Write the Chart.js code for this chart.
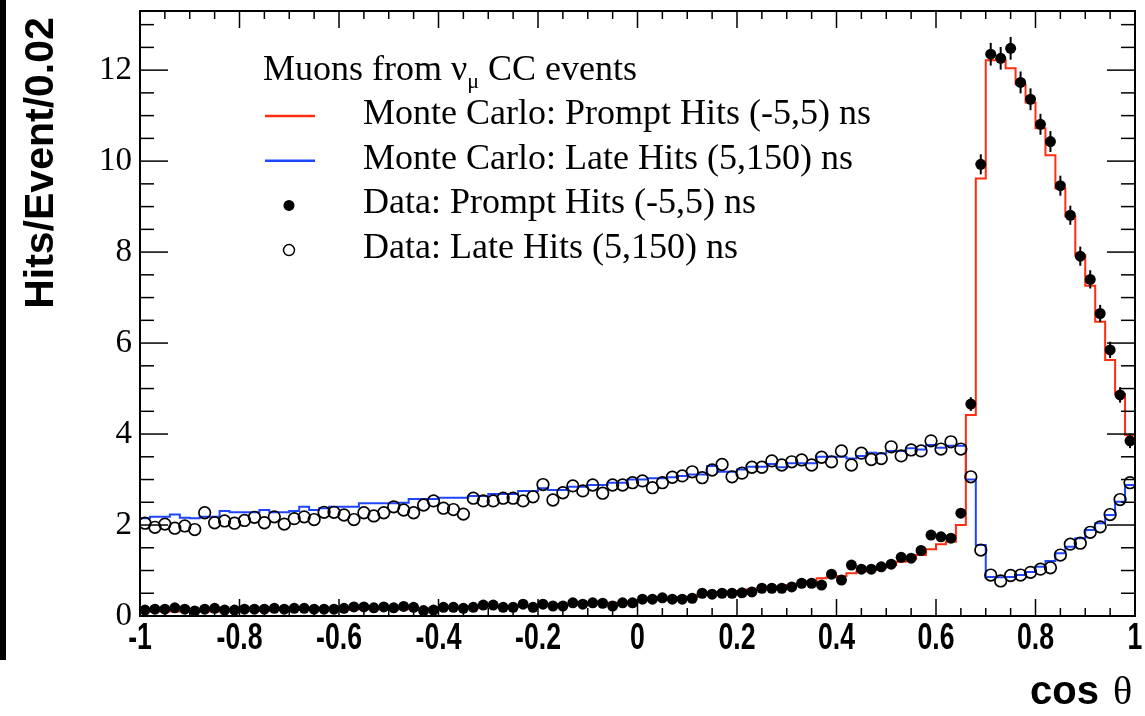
<!DOCTYPE html>
<html>
<head>
<meta charset="utf-8">
<script src="https://cdn.jsdelivr.net/npm/chart.js@4.4.0/dist/chart.umd.min.js"></script>
<style>
  html, body { margin: 0; padding: 0; background: #fff; }
  #wrap { width: 1145px; height: 716px; }
</style>
</head>
<body>
<div id="wrap"><canvas id="hitsChart"></canvas></div>
<script>
// cos(theta) binning: 100 bins of 0.02
const xMin = -1, xMax = 1, binWidth = 0.02;
const xTickVals = [-1, -0.8, -0.6, -0.4, -0.2, 0, 0.2, 0.4, 0.6, 0.8, 1];
const yTickVals = [0, 2, 4, 6, 8, 10, 12];

// Monte Carlo, prompt hits (-5,5) ns
const mcPrompt = [
  0.10, 0.10, 0.10, 0.10, 0.10, 0.10, 0.10, 0.10, 0.11, 0.11,
  0.11, 0.11, 0.11, 0.13, 0.13, 0.13, 0.13, 0.13, 0.13, 0.13,
  0.13, 0.15, 0.15, 0.15, 0.15, 0.15, 0.15, 0.15, 0.15, 0.17,
  0.17, 0.17, 0.17, 0.17, 0.21, 0.21, 0.21, 0.21, 0.21, 0.21,
  0.24, 0.24, 0.24, 0.24, 0.24, 0.28, 0.28, 0.29, 0.29, 0.29,
  0.35, 0.35, 0.39, 0.40, 0.42, 0.42, 0.46, 0.46, 0.50, 0.53,
  0.55, 0.59, 0.61, 0.62, 0.64, 0.68, 0.72, 0.76, 0.83, 0.85,
  0.88, 0.94, 0.98, 1.01, 1.06, 1.12, 1.19, 1.26, 1.34, 1.47,
  1.58, 1.63, 2.00, 4.42, 9.62, 12.22, 12.22, 12.04, 11.69, 11.29,
  10.72, 10.13, 9.40, 8.78, 7.93, 7.26, 6.47, 5.63, 4.88, 3.98
];
// Monte Carlo, late hits (5,150) ns
const mcLate = [
  2.15, 2.18, 2.18, 2.23, 2.16, 2.15, 2.18, 2.18, 2.31, 2.28,
  2.28, 2.28, 2.33, 2.28, 2.28, 2.31, 2.40, 2.33, 2.37, 2.40,
  2.40, 2.40, 2.48, 2.48, 2.48, 2.48, 2.49, 2.57, 2.57, 2.57,
  2.60, 2.60, 2.60, 2.64, 2.64, 2.68, 2.68, 2.68, 2.75, 2.75,
  2.81, 2.77, 2.77, 2.84, 2.84, 2.88, 2.88, 2.93, 2.93, 3.00,
  3.00, 3.03, 3.03, 3.05, 3.08, 3.11, 3.11, 3.30, 3.17, 3.17,
  3.22, 3.28, 3.28, 3.34, 3.27, 3.36, 3.36, 3.36, 3.50, 3.50,
  3.50, 3.46, 3.52, 3.59, 3.57, 3.63, 3.63, 3.69, 3.66, 3.76,
  3.70, 3.74, 3.74, 3.00, 1.56, 0.86, 0.85, 0.86, 0.90, 0.97,
  1.08, 1.21, 1.38, 1.52, 1.71, 1.89, 2.04, 2.22, 2.51, 2.88
];
// Data, prompt hits
const dataPrompt = [
  0.13, 0.15, 0.15, 0.18, 0.15, 0.11, 0.15, 0.17, 0.13, 0.13,
  0.15, 0.15, 0.15, 0.17, 0.15, 0.17, 0.17, 0.15, 0.15, 0.15,
  0.17, 0.20, 0.20, 0.18, 0.20, 0.18, 0.21, 0.19, 0.12, 0.13,
  0.19, 0.19, 0.17, 0.19, 0.24, 0.24, 0.19, 0.19, 0.26, 0.19,
  0.26, 0.22, 0.22, 0.29, 0.26, 0.29, 0.28, 0.22, 0.29, 0.29,
  0.37, 0.37, 0.40, 0.37, 0.37, 0.39, 0.50, 0.48, 0.50, 0.50,
  0.51, 0.53, 0.61, 0.61, 0.61, 0.64, 0.72, 0.72, 0.68, 0.92,
  0.79, 1.12, 1.03, 1.03, 1.08, 1.14, 1.29, 1.27, 1.44, 1.78,
  1.74, 1.71, 2.26, 4.66, 9.93, 12.35, 12.26, 12.48, 11.73, 11.36,
  10.81, 10.43, 9.46, 8.81, 7.91, 7.40, 6.65, 5.85, 4.86, 3.85
];
// Data, late hits
const dataLate = [
  2.04, 1.95, 2.02, 1.93, 1.98, 1.90, 2.27, 2.05, 2.09, 2.04,
  2.10, 2.17, 2.05, 2.18, 2.02, 2.14, 2.18, 2.12, 2.28, 2.28,
  2.22, 2.12, 2.27, 2.20, 2.27, 2.40, 2.33, 2.27, 2.44, 2.53,
  2.37, 2.34, 2.24, 2.59, 2.53, 2.53, 2.59, 2.59, 2.53, 2.62,
  2.89, 2.55, 2.71, 2.86, 2.75, 2.88, 2.70, 2.88, 2.88, 2.93,
  2.97, 2.82, 2.93, 3.05, 3.08, 3.17, 3.04, 3.21, 3.33, 3.06,
  3.14, 3.27, 3.27, 3.41, 3.32, 3.39, 3.43, 3.32, 3.49, 3.39,
  3.63, 3.32, 3.58, 3.44, 3.46, 3.72, 3.52, 3.65, 3.63, 3.85,
  3.67, 3.83, 3.67, 3.06, 1.45, 0.90, 0.77, 0.89, 0.90, 0.96,
  1.03, 1.06, 1.34, 1.58, 1.60, 1.84, 1.96, 2.23, 2.56, 2.93
];
// visible error bars on prompt data (bins 83..99)
const promptErrStart = 83;
const promptErr = [0.15, 0.22, 0.25, 0.25, 0.25, 0.24, 0.24, 0.23, 0.23, 0.22, 0.21, 0.21, 0.20, 0.19, 0.18, 0.17, 0.16];

const RED = 'rgb(255,45,15)';
const BLUE = 'rgb(30,70,255)';
const SERIF = "'Liberation Serif', 'Times New Roman', serif";
const SANS = "'Liberation Sans', Arial, Helvetica, sans-serif";

const binLow = mcPrompt.map((_, i) => xMin + i * binWidth);
const steps = vals => vals.map((v, i) => ({x: binLow[i], y: v})).concat([{x: xMax, y: vals[vals.length - 1]}]);
const points = vals => vals.map((v, i) => ({x: binLow[i] + binWidth / 2, y: v}));

function line(ctx, x1, y1, x2, y2) {
  ctx.beginPath();
  ctx.moveTo(x1, y1);
  ctx.lineTo(x2, y2);
  ctx.stroke();
}

const errorBars = {
  id: 'errorBars',
  afterDatasetsDraw(chart) {
    const {ctx, scales: {x, y}} = chart;
    ctx.save();
    ctx.strokeStyle = '#000';
    ctx.lineWidth = 2;
    promptErr.forEach((e, k) => {
      const i = promptErrStart + k;
      const px = x.getPixelForValue(binLow[i] + binWidth / 2);
      line(ctx, px, y.getPixelForValue(dataPrompt[i] - e), px, y.getPixelForValue(dataPrompt[i] + e));
    });
    ctx.restore();
  }
};

const frame = {
  id: 'frame',
  afterDraw(chart) {
    const {ctx, chartArea: a, scales: {x, y}} = chart;
    ctx.save();
    ctx.strokeStyle = '#000';
    ctx.lineWidth = 2;
    ctx.strokeRect(a.left, a.top, a.right - a.left, a.bottom - a.top);
    ctx.lineWidth = 1.5;
    // x ticks every 0.05, major every 0.2, pointing inward
    for (let k = 0; k <= 40; k++) {
      const px = x.getPixelForValue(xMin + k * 0.05);
      const len = k % 4 === 0 ? 17 : 8;
      line(ctx, px, a.bottom, px, a.bottom - len);
      line(ctx, px, a.top, px, a.top + len);
    }
    // y ticks every 0.5, major every 2
    for (let k = 0; k * 0.5 <= y.max; k++) {
      const py = y.getPixelForValue(k * 0.5);
      const len = k % 4 === 0 ? 28 : 14;
      line(ctx, a.left, py, a.left + len, py);
      line(ctx, a.right, py, a.right - len, py);
    }
    // x tick labels: condensed bold, like the original
    ctx.fillStyle = '#000';
    ctx.font = 'bold 36px ' + SANS;
    ctx.textAlign = 'center';
    ctx.textBaseline = 'alphabetic';
    x.ticks.forEach(t => {
      ctx.save();
      ctx.translate(x.getPixelForValue(t.value), a.bottom + 33);
      ctx.scale(0.74, 1);
      ctx.fillText(String(t.value), 0, 0);
      ctx.restore();
    });

    // dark strip on the left edge of the figure
    ctx.fillRect(0, 0, 6, 660);

    // axis titles
    ctx.save();
    ctx.translate(42, 163);
    ctx.rotate(-Math.PI / 2);
    ctx.font = 'bold 41px ' + SANS;
    ctx.textAlign = 'center';
    ctx.textBaseline = 'middle';
    ctx.fillText('Hits/Event/0.02', 0, 0);
    ctx.restore();

    ctx.textBaseline = 'alphabetic';
    ctx.textAlign = 'left';
    ctx.font = 'bold 40px ' + SANS;
    ctx.fillText('cos', 1030, 704);
    ctx.font = '40px ' + SERIF;
    ctx.fillText('\u03b8', 1113, 704);

    // legend
    const lx = 263, tx = 363;
    ctx.font = '36px ' + SERIF;
    ctx.fillText('Muons from \u03bd', lx, 80);
    const w = ctx.measureText('Muons from \u03bd').width;
    ctx.font = '22px ' + SERIF;
    ctx.fillText('\u03bc', lx + w, 88);
    const w2 = ctx.measureText('\u03bc').width;
    ctx.font = '36px ' + SERIF;
    ctx.fillText(' CC events', lx + w + w2, 80);

    const rows = [
      {t: 'Monte Carlo: Prompt Hits (-5,5) ns', kind: 'line', c: RED},
      {t: 'Monte Carlo: Late Hits (5,150) ns', kind: 'line', c: BLUE},
      {t: 'Data: Prompt Hits (-5,5) ns', kind: 'dot'},
      {t: 'Data: Late Hits (5,150) ns', kind: 'ring'}
    ];
    rows.forEach((r, k) => {
      const base = 124 + k * 44.7;
      const my = base - 8;
      ctx.fillStyle = '#000';
      ctx.font = '36px ' + SERIF;
      ctx.fillText(r.t, tx, base);
      if (r.kind === 'line') {
        ctx.strokeStyle = r.c;
        ctx.lineWidth = 2.5;
        line(ctx, 265, my, 315, my);
      } else {
        ctx.beginPath();
        ctx.arc(289, my, 5.5, 0, Math.PI * 2);
        if (r.kind === 'dot') { ctx.fill(); }
        else { ctx.strokeStyle = '#000'; ctx.lineWidth = 1.5; ctx.stroke(); }
      }
    });
    ctx.restore();
  }
};

new Chart(document.getElementById('hitsChart'), {
  type: 'line',
  data: {
    datasets: [
      {
        label: 'Data: Prompt Hits (-5,5) ns',
        data: points(dataPrompt),
        showLine: false,
        pointStyle: 'circle',
        pointRadius: 5.5,
        pointBackgroundColor: '#000',
        pointBorderWidth: 0,
        order: 1
      },
      {
        label: 'Data: Late Hits (5,150) ns',
        data: points(dataLate),
        showLine: false,
        pointStyle: 'circle',
        pointRadius: 5.8,
        pointBackgroundColor: 'rgba(0,0,0,0)',
        pointBorderColor: '#000',
        pointBorderWidth: 1.7,
        order: 2
      },
      {
        label: 'Monte Carlo: Prompt Hits (-5,5) ns',
        data: steps(mcPrompt),
        stepped: true,
        borderColor: RED,
        borderWidth: 2,
        pointRadius: 0,
        fill: false,
        order: 3
      },
      {
        label: 'Monte Carlo: Late Hits (5,150) ns',
        data: steps(mcLate),
        stepped: true,
        borderColor: BLUE,
        borderWidth: 2,
        pointRadius: 0,
        fill: false,
        order: 4
      }
    ]
  },
  options: {
    responsive: true,
    maintainAspectRatio: false,
    animation: false,
    layout: {padding: {top: 11, right: 10, left: 0, bottom: 0}},
    plugins: {legend: {display: false}, tooltip: {enabled: false}},
    scales: {
      x: {
        type: 'linear',
        min: xMin,
        max: xMax,
        afterBuildTicks: s => { s.ticks = xTickVals.map(v => ({value: v})); },
        afterFit: s => { s.height = 100; s.paddingLeft = 0; s.paddingRight = 0; },
        grid: {display: false, drawTicks: false},
        border: {display: false},
        ticks: {display: false}
      },
      y: {
        type: 'linear',
        min: 0,
        max: 13.3,
        afterBuildTicks: s => { s.ticks = yTickVals.map(v => ({value: v})); },
        afterFit: s => { s.width = 140; s.paddingTop = 0; s.paddingBottom = 0; },
        grid: {display: false, drawTicks: false},
        border: {display: false},
        ticks: {
          color: '#000',
          padding: 8,
          autoSkip: false,
          font: {family: SERIF, size: 33},
          callback: v => String(v)
        }
      }
    }
  },
  plugins: [errorBars, frame]
});
</script>
</body>
</html>
